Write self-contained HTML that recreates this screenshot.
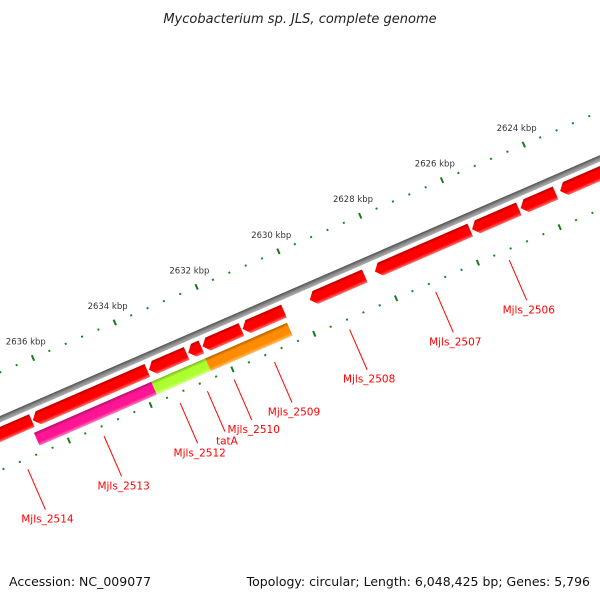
<!DOCTYPE html>
<html><head><meta charset="utf-8">
<style>
html,body{margin:0;padding:0;background:#fff;}
svg{display:block;font-family:"DejaVu Sans","Liberation Sans",sans-serif;}
</style></head>
<body>
<svg id="map" width="600" height="600" viewBox="0 0 600 600" xmlns="http://www.w3.org/2000/svg">
<defs>
<linearGradient id="gRed" x1="0" y1="0" x2="0" y2="1">
<stop offset="0" stop-color="#b80000"/><stop offset="0.25" stop-color="#ff0000"/><stop offset="0.75" stop-color="#ff0000"/><stop offset="1" stop-color="#ff7070"/></linearGradient>
<linearGradient id="gPink" x1="0" y1="0" x2="0" y2="1">
<stop offset="0" stop-color="#b0106a"/><stop offset="0.25" stop-color="#ff1493"/><stop offset="0.75" stop-color="#ff1493"/><stop offset="1" stop-color="#ff80c0"/></linearGradient>
<linearGradient id="gGreen" x1="0" y1="0" x2="0" y2="1">
<stop offset="0" stop-color="#78b818"/><stop offset="0.25" stop-color="#adff2f"/><stop offset="0.75" stop-color="#adff2f"/><stop offset="1" stop-color="#d8ff90"/></linearGradient>
<linearGradient id="gOrange" x1="0" y1="0" x2="0" y2="1">
<stop offset="0" stop-color="#b06000"/><stop offset="0.25" stop-color="#ff8c00"/><stop offset="0.75" stop-color="#ff8c00"/><stop offset="1" stop-color="#ffc070"/></linearGradient>
<linearGradient id="gGray" x1="0" y1="0" x2="0" y2="1">
<stop offset="0" stop-color="#505050"/><stop offset="0.5" stop-color="#8a8a8a"/><stop offset="1" stop-color="#b0b0b0"/></linearGradient>
</defs>
<text x="300" y="23" text-anchor="middle" font-size="13" font-style="italic" fill="#222">Mycobacterium sp. JLS, complete genome</text>
<g id="plot"></g>
<g id="labels"></g>
<text x="9" y="586" font-size="12.5" fill="#111">Accession: NC_009077</text>
<text x="590" y="586" text-anchor="end" font-size="12.5" fill="#111">Topology: circular; Length: 6,048,425 bp; Genes: 5,796</text>
</svg>
<script>
// data
const tickKbp = [2624, 2626, 2628, 2630, 2632, 2634, 2636];
const fwdStarts = [2636583, 2633760, 2632800, 2632440, 2631460, 2630420, 2628444, 2625865, 2624677, 2623780, 2621000];
const fwdEnds   = [2639812, 2636560, 2633720, 2632760, 2632410, 2631430, 2629789, 2628197, 2625821, 2624632, 2623668];
const fwdNames  = ["Mjls_2515","Mjls_2514","Mjls_2513f","Mjls_2511","Mjls_2510f","Mjls_2509","Mjls_2508","Mjls_2507","Mjls_2506","Mjls_2505","Mjls_2504"];
const revStarts = [2633780, 2632794, 2632460, 2630462];
const revEnds   = [2636650, 2633780, 2632794, 2632460];
const revColors = ["gPink","gGreen","gGreen","gOrange"];
const revNames  = ["Mjls_2513","Mjls_2512","tatA","Mjls_2510"];
const labelTexts = ["Mjls_2514","Mjls_2513","Mjls_2512","tatA","Mjls_2510","Mjls_2509","Mjls_2508","Mjls_2507","Mjls_2506"];
const labelBp = [2637100, 2635237, 2633377, 2632711, 2632056, 2631072, 2629235, 2627128, 2625332];

const NS="http://www.w3.org/2000/svg";
const ox=33, oy=358, ang=23.5*Math.PI/180, c=Math.cos(ang), s=Math.sin(ang), k=0.0446;
function lx(bp){return (2636000-bp)*k;}
function toImg(x,y){return [ox + x*c + y*s, oy - x*s + y*c];}
const plot=document.getElementById('plot');
const g=document.createElementNS(NS,'g');
g.setAttribute('transform',`translate(${ox},${oy}) rotate(-23.5)`);
plot.appendChild(g);
function mk(tag,attrs,parent){const e=document.createElementNS(NS,tag);for(const a in attrs)e.setAttribute(a,attrs[a]);parent.appendChild(e);return e;}

// backbone
const bb=mk('rect',{x:-200,y:40,width:1000,height:6,fill:'url(#gGray)'},g);



// tick rings
for(let bp=2640000; bp>=2619000; bp-=400){
  const x=lx(bp);
  const major = (bp%2000===0);
  [0,90].forEach(y=>{
    const t = major ? mk('rect',{x:x-1,y:y-3,width:2,height:6,fill:'#1a7a1a'},g)
                    : mk('rect',{x:x-1,y:y-1,width:2,height:2,fill:'#1a8a1a'},g);
    
    
  });
}
tickKbp.forEach(kb=>{
  const p=toImg(lx(kb*1000),-18);
  const t=mk('text',{x:p[0],y:p[1]+3,'text-anchor':'middle','font-size':'8.5',fill:'#333'},document.getElementById('map'));
  t.textContent=kb+' kbp';
  
  
});

// forward genes (arrow pointing left = increasing bp)
fwdStarts.forEach((st,i)=>{
  const xr=lx(st), xl=lx(fwdEnds[i]);
  const y0=50,y1=64,ym=57,h=Math.min(6,(xr-xl)/2);
  const pts=`${xl},${ym} ${xl+h},${y0} ${xr},${y0} ${xr},${y1} ${xl+h},${y1}`;
  const p=mk('polygon',{points:pts,fill:'url(#gRed)'},g);
  
  
});
// second row
revStarts.forEach((st,i)=>{
  const xr=lx(st), xl=lx(revEnds[i]);
  const r=mk('rect',{x:xl,y:69,width:xr-xl,height:14,fill:'url(#'+revColors[i]+')'},g);
  
  
});

// labels with leaders
const lg=document.getElementById('labels');
labelTexts.forEach((name,i)=>{
  const x=lx(labelBp[i]);
  const a=toImg(x,100), b=toImg(x,144);
  const l=mk('line',{x1:a[0],y1:a[1],x2:b[0],y2:b[1],stroke:'#ff0000','stroke-width':1},lg);
  
  
  const t=mk('text',{x:b[0]+2,y:b[1]+13,'text-anchor':'middle','font-size':'10.5',fill:'#ff0000'},lg);
  t.textContent=name;
  
  
});
</script>
</body></html>
